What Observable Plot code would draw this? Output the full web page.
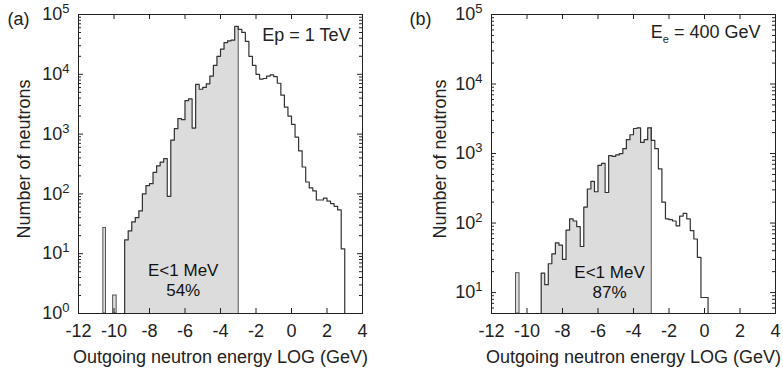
<!DOCTYPE html>
<html><head><meta charset="utf-8">
<script src="https://cdn.jsdelivr.net/npm/d3@7"></script>
<script src="https://cdn.jsdelivr.net/npm/@observablehq/plot@0.6"></script>
<style>
body{margin:0;background:#fff;}
#wrap{display:flex;width:783px;height:374px;overflow:hidden;}
#wrap svg{display:block;flex:none;}
</style></head><body><div id="wrap"></div>
<script>
// ---- tick labels ----
const xTicks = [-12, -10, -8, -6, -4, -2, 0, 2, 4];
const yTicksA = [1, 10, 100, 1000, 10000, 100000];
const yTicksB = [10, 100, 1000, 10000, 100000];
const cutoff = -3; // LOG(1 MeV in GeV)

// ---- panel (a): Ep = 1 TeV ----
const aEdges = [-9.4,-9.2,-9.0,-8.8,-8.6,-8.4,-8.2,-8.0,-7.8,-7.6,-7.4,-7.2,-7.0,-6.8,-6.6,-6.4,-6.2,-6.0,-5.8,-5.6,-5.4,-5.2,-5.0,-4.8,-4.6,-4.4,-4.2,-4.0,-3.8,-3.6,-3.4,-3.2,-3.0,-2.8,-2.6,-2.4,-2.2,-2.0,-1.8,-1.6,-1.4,-1.2,-1.0,-0.8,-0.6,-0.4,-0.2,0.0,0.2,0.4,0.6,0.8,1.0,1.2,1.4,1.6,1.8,2.0,2.2,2.4,2.6,2.8,3.0];
const aCounts = [17,24,34,40,52,100,138,148,229,295,339,389,91,794,1230,1820,1740,3630,3890,1260,6760,5620,6030,6920,9330,14100,19950,26300,33900,36300,37150,63100,
  56200,50100,35500,19950,14100,10000,8320,8510,9330,9770,9120,7080,4470,2820,2000,1450,890,525,282,158,126,112,79,79,85,76,69,62,54,12];
const aSpikeLo = [-10.6, -10.05];
const aSpikeHi = [-10.45, -9.85];
const aSpikeN = [27, 2];

// ---- panel (b): Ee = 400 GeV ----
const bEdges = [-9.2,-9.0,-8.8,-8.6,-8.4,-8.2,-8.0,-7.8,-7.6,-7.4,-7.2,-7.0,-6.8,-6.6,-6.4,-6.2,-6.0,-5.8,-5.6,-5.4,-5.2,-5.0,-4.8,-4.6,-4.4,-4.2,-4.0,-3.8,-3.6,-3.4,-3.2,-3.0,-2.8,-2.6,-2.4,-2.2,-2.0,-1.8,-1.6,-1.4,-1.2,-1.0,-0.8,-0.6,-0.4,-0.2,0.0,0.2];
const bCounts = [19,13,26,36,52,48,30,79,115,107,89,46,170,309,398,282,676,724,275,933,912,955,1000,1175,1585,1862,2290,2344,1445,1585,2344,
  1549,1175,603,200,115,112,107,91,126,138,115,78,59,32,8.5,8.5];
const bSpikeLo = [-10.62];
const bSpikeHi = [-10.42];
const bSpikeN = [19];

const FONT = "'Liberation Sans', Arial, Helvetica, sans-serif";
const INK = "#222";

function stepPoints(edges, counts, base) {
  const pts = [{x: edges[0], y: base}];
  counts.forEach((c, i) => pts.push({x: edges[i], y: c}));
  const n = counts.length;
  pts.push({x: edges[n], y: counts[n - 1]});
  pts.push({x: edges[n], y: base});
  return pts;
}
function fillPoints(edges, counts, cut) {
  const pts = [];
  counts.forEach((c, i) => { if (edges[i] < cut - 1e-9) pts.push({x: edges[i], y: c}); });
  pts.push({x: cut, y: pts[pts.length - 1].y});
  return pts;
}

function panel(o) {
  const width = o.width, height = 374, mt = 14, mb = 61;
  const W = width - o.marginLeft - o.marginRight, H = height - mt - mb;
  const base = o.yDomain[0];
  const line = stepPoints(o.edges, o.counts, base);
  const fill = fillPoints(o.edges, o.counts, cutoff);
  const leftOfCut = fill[fill.length - 1].y;
  const minor = d3.scaleLog().domain(o.yDomain).ticks()
    .filter(t => Math.abs(Math.log10(t) - Math.round(Math.log10(t))) > 1e-6);
  const spikes = d3.range(o.spikeN.length);
  const T = {textAnchor: "middle", lineAnchor: "middle"};
  const svg = Plot.plot({
    width, height, marginLeft: o.marginLeft, marginRight: o.marginRight, marginTop: mt, marginBottom: mb,
    style: {fontFamily: FONT, fontSize: "18px", color: INK, background: "transparent", overflow: "visible"},
    x: {domain: [-12, 4], ticks: xTicks, tickSize: 0, tickPadding: 11, tickFormat: d => String(d), label: null},
    y: {type: "log", domain: o.yDomain, ticks: o.yTicks, tickSize: 0, tickPadding: 9,
        tickFormat: d => "10|" + Math.round(Math.log10(d)), label: null},
    marks: [
      Plot.areaY(fill, {x: "x", y1: base, y2: "y", curve: "step-after", fill: "#dcdcdc"}),
      Plot.ruleX([cutoff], {x: d => d, y1: base, y2: leftOfCut, stroke: "#6a6a6a", strokeWidth: 1.2}),
      Plot.rect(spikes, {x1: i => o.spikeLo[i], x2: i => o.spikeHi[i], y1: base, y2: i => o.spikeN[i],
        fill: "#dcdcdc", stroke: "#555", strokeWidth: 1}),
      Plot.line(line, {x: "x", y: "y", curve: "step-after", stroke: "#333", strokeWidth: 1.2}),
      Plot.frame({stroke: INK, strokeWidth: 1}),
      Plot.tickX(xTicks, {x: d => d, insetTop: H - 5, stroke: INK}),
      Plot.tickX(xTicks, {x: d => d, insetBottom: H - 5, stroke: INK}),
      Plot.tickY(o.yTicks, {y: d => d, insetRight: W - 5, stroke: INK}),
      Plot.tickY(o.yTicks, {y: d => d, insetLeft: W - 5, stroke: INK}),
      Plot.tickY(minor, {y: d => d, insetRight: W - 3, stroke: INK}),
      Plot.tickY(minor, {y: d => d, insetLeft: W - 3, stroke: INK}),
      Plot.text([o.tag], {frameAnchor: "top-left", ...T, dx: o.tagDx, dy: 5, fill: INK}),
      Plot.text(["Number of neutrons"], {frameAnchor: "left", ...T, rotate: -90, dx: o.yLabelDx, dy: -5, fill: INK}),
      Plot.text(["Outgoing neutron energy LOG (GeV)"], {frameAnchor: "bottom", ...T, dy: 44, fill: INK}),
      Plot.text([o.energy], {frameAnchor: "top-right", textAnchor: "end", lineAnchor: "middle", dx: o.energyDx, dy: o.energyDy, fill: INK}),
      Plot.text(["E<1 MeV"], {x: () => o.pctX, frameAnchor: "bottom", ...T, fontSize: 17, dy: o.pctDy[0], fill: "#111"}),
      Plot.text([o.pct], {x: () => o.pctX, frameAnchor: "bottom", ...T, fontSize: 17, dy: o.pctDy[1], fill: "#111"})
    ]
  });
  const ns = "http://www.w3.org/2000/svg";
  // superscript exponents on y tick labels
  svg.querySelectorAll('[aria-label="y-axis tick label"] text').forEach(t => {
    const parts = t.textContent.split("|");
    if (parts.length !== 2) return;
    t.textContent = "";
    const a = document.createElementNS(ns, "tspan"); a.textContent = parts[0];
    const b = document.createElementNS(ns, "tspan"); b.textContent = parts[1];
    b.setAttribute("dy", "-7"); b.setAttribute("font-size", "13px");
    t.appendChild(a); t.appendChild(b);
  });
  // subscript e in E_e
  svg.querySelectorAll("text").forEach(t => {
    if (t.textContent === "Ee = 400 GeV") {
      t.textContent = "";
      const s1 = document.createElementNS(ns, "tspan"); s1.textContent = "E";
      const s2 = document.createElementNS(ns, "tspan"); s2.textContent = "e";
      s2.setAttribute("dy", "5"); s2.setAttribute("font-size", "11px");
      const s3 = document.createElementNS(ns, "tspan"); s3.textContent = " = 400 GeV";
      s3.setAttribute("dy", "-5"); s3.setAttribute("font-size", "18px");
      t.appendChild(s1); t.appendChild(s2); t.appendChild(s3);
    }
  });
  return svg;
}

const wrap = document.getElementById("wrap");
wrap.appendChild(panel({
  edges: aEdges, counts: aCounts, spikeLo: aSpikeLo, spikeHi: aSpikeHi, spikeN: aSpikeN,
  yDomain: [1, 1e5], yTicks: yTicksA, width: 391, marginLeft: 78, marginRight: 29,
  tag: "(a)", tagDx: -60, yLabelDx: -54, energy: "Ep = 1 TeV", energyDx: -12, energyDy: 21,
  pct: "54%", pctX: -6.1, pctDy: [-43, -23]
}));
wrap.appendChild(panel({
  edges: bEdges, counts: bCounts, spikeLo: bSpikeLo, spikeHi: bSpikeHi, spikeN: bSpikeN,
  yDomain: [5, 1e5], yTicks: yTicksB, width: 392, marginLeft: 100, marginRight: 8,
  tag: "(b)", tagDx: -71, yLabelDx: -51, energy: "Ee = 400 GeV", energyDx: -15, energyDy: 18,
  pct: "87%", pctX: -5.35, pctDy: [-41, -21]
}));
</script></body></html>
